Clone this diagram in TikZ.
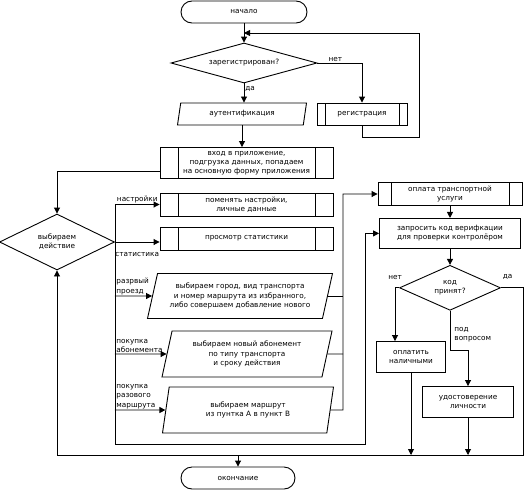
\documentclass[tikz,border=0pt]{standalone}
\usepackage{fontspec}
\setmainfont{DejaVu Sans}
\usepackage{tikz}
\usetikzlibrary{arrows.meta,positioning,shapes.geometric}
\newcommand{\flowfont}{\fontsize{7.3pt}{9.2pt}\selectfont}

\begin{document}
\begin{tikzpicture}[
x=1pt,y=-1pt,line width=0.9pt,
box/.style={draw,align=center,inner xsep=2pt,inner ysep=1pt,font=\flowfont},
term/.style={box,rounded corners=11pt,minimum height=22pt},
proc/.style={box,path picture={\draw ([xshift=#1]path picture bounding box.north west) -- ([xshift=#1]path picture bounding box.south west) ([xshift=-#1]path picture bounding box.north east) -- ([xshift=-#1]path picture bounding box.south east);}},
proc/.default=18pt,
io/.style={box,trapezium,trapezium left angle=70,trapezium right angle=110,trapezium stretches body=true},
ask/.style={box,diamond,inner sep=0pt,shape aspect=2},
lbl/.style={font=\flowfont,inner sep=1pt,align=left},
arr/.style={-{Triangle[length=6pt,width=6pt]}}]
\useasboundingbox (0,0) rectangle (526,492);
% main column
\node[term,minimum width=126pt] (start) at (244,12) {начало};
\node[ask,shape aspect=3.6,minimum width=146pt,minimum height=40pt] (reg) at (244,63) {зарегистрирован?};
\node[io,minimum width=129pt,minimum height=22pt] (auth) at (242,114) {аутентификация};
\node[proc=8pt,minimum width=90pt,minimum height=22pt] (regist) at (362,114) {регистрация};
\node[proc,minimum width=173pt,minimum height=31pt] (enter) at (246.5,163) {вход в приложение,\\подгрузка данных, попадаем\\на основную форму приложения};
\node[proc,minimum width=173pt,minimum height=23pt] (sett) at (246.5,204.5) {поменять настройки,\\личные данные};
\node[proc,minimum width=173pt,minimum height=23pt] (stat) at (246.5,238.5) {просмотр статистики};
\node[io,minimum width=185pt,minimum height=45pt] (trip) at (240,296) {выбираем город, вид транспорта\\и номер маршрута из избранного,\\либо совершаем добавление нового};
\node[io,minimum width=170pt,minimum height=46pt] (sub) at (247,354) {выбираем новый абонемент\\по типу транспорта\\и сроку действия};
\node[io,minimum width=171pt,minimum height=46pt] (route) at (248,410) {выбираем маршрут\\из пунтка А в пункт В};
\node[term,minimum width=114pt] (stop) at (238,478) {окончание};
% left decision
\node[ask,minimum width=115pt,minimum height=56pt] (act) at (57,242) {выбираем\\действие};
% right column
\node[proc=13pt,minimum width=144pt,minimum height=23pt] (pay) at (450,194) {оплата транспортной\\услуги};
\node[box,minimum width=141pt,minimum height=30pt,below=12pt of pay] (verif) {запросить код верифкации\\для проверки контролёром};
\node[ask,shape aspect=2.2,minimum width=101pt,minimum height=45pt,below=16pt of verif] (code) {код\\принят?};
\node[box,minimum width=69pt,minimum height=31pt] (cash) at (411,357) {оплатить\\наличными};
\node[box,minimum width=91pt,minimum height=31pt] (ident) at (468,402) {удостоверение\\личности};
\coordinate (loop) at (419,33);
\coordinate (ret) at (365,444);
\coordinate (col) at (343,194);
\coordinate (botr) at (523,455);
% connectors
\draw[arr] (start) -- (reg);
\draw[arr] (regist.south) -- ++(0,12) -| (loop) -- (loop -| start);
\draw[arr] (reg.south) -- node[lbl,right,pos=0.3]{да} (reg.south |- auth.north);
\draw[arr] (reg.east) -| node[lbl,above,pos=0.2]{нет} (regist);
\draw[arr] (auth.south) -- (auth.south |- enter.north);
\draw[arr] ([yshift=-8pt]enter.west) -| (act);
\draw[arr] (act.east |- sett) |- (ret) |- (verif);
\draw[arr] (act.east |- sett) -- node[lbl,above]{настройки} (sett);
\draw[arr] (act.east) -- node[lbl,below=9pt]{статистика} (act.east -| stat.west);
\draw[arr] (act.east |- trip) -- node[lbl,above right,pos=0]{разрвый\\проезд} (trip);
\draw[arr] (act.east |- sub) -- node[lbl,above right,pos=0]{покупка\\абонемента} (sub);
\draw[arr] (act.east |- route) -- node[lbl,above right,pos=0]{покупка\\разового\\маршрута} (route);
\draw (trip) -- (trip -| col);
\draw (sub) -- (sub -| col);
\draw[arr] (route) -- (route -| col) |- (pay);
\draw[arr] (pay) -- (verif);
\draw[arr] (verif) -- (code);
\draw[arr] (code.west) -| node[lbl,above=7pt]{нет} ([xshift=-16pt]cash.north);
\draw[arr] (code.south) -- node[lbl,right=3pt,pos=0.6]{под\\вопросом} ++(0,40) -| (ident);
\draw[arr] (code.east) -| node[lbl,above=7pt,pos=0.15]{да} (botr) -| (act);
\draw[arr] (cash) -- (cash |- botr);
\draw[arr] (ident) -- (ident |- botr);
\draw[arr] (stop |- botr) -- (stop);
\end{tikzpicture}
\end{document}
